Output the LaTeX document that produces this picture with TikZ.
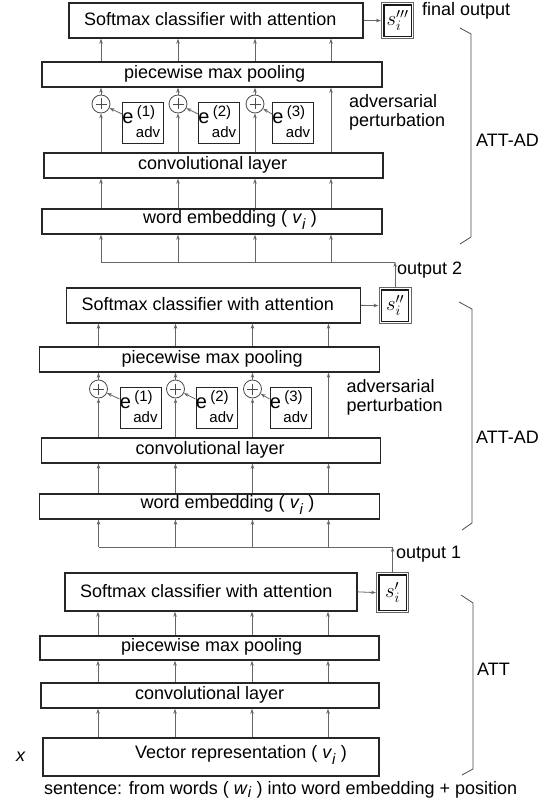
\documentclass[tikz,border=0pt]{standalone}
\usepackage{fontspec}
\setmainfont{Liberation Sans}
\usetikzlibrary{arrows.meta,calc}
\tikzset{
  box/.style={draw=black!85, line width=1.7pt, inner sep=0pt, anchor=north west},
  txt/.style={font=\fontsize{18}{19}\selectfont, inner sep=0pt},
  small/.style={font=\fontsize{15}{15}\selectfont, inner sep=0pt},
  arr/.style={draw=black!60, line width=0.8pt, -{Stealth[length=5pt,width=3.5pt]}},
  plain/.style={draw=black!60, line width=0.8pt},
  brk/.style={draw=black!70, line width=0.8pt},
  sbox/.style={draw=black!60, line width=1.2pt, inner sep=0pt, anchor=north west,
    font=\fontsize{20}{20}\selectfont},
  sinner/.style={draw=black!90, line width=1.2pt},
  plusc/.style={circle, draw=black!70, line width=0.8pt, minimum size=18pt, inner sep=0pt},
}
\newcommand\vsub[1]{\textit{#1}\raisebox{-6pt}{\fontsize{15}{15}\selectfont\textit{i}}}
\newcommand\sframe[1]{\draw[sinner] ($(#1.north west)+(3,3)$) rectangle ($(#1.south east)+(-3,-3)$);}
\newcommand\advsection[3]{%
\begin{scope}[shift={(#2,#3)}]
  \coordinate (#1k1) at (101,0);
  \coordinate (#1k2) at (178,0);
  \coordinate (#1k3) at (255,0);
  \coordinate (#1k4) at (331,0);
  \node[box, minimum width=294pt, minimum height=35pt] (#1soft) at (68,2) {};
  \node[txt, anchor=west] (#1softt) at (84,19.5) {Softmax classifier with attention};
  \node[box, minimum width=340pt, minimum height=25pt] (#1pool) at (41,61) {};
  \node[txt, anchor=west] (#1poolt) at (124,73.5) {piecewise max pooling};
  \node[box, minimum width=339pt, minimum height=25pt] (#1conv) at (43,152) {};
  \node[txt, anchor=west] (#1convt) at (138,164.5) {convolutional layer};
  \node[box, minimum width=340pt, minimum height=25pt] (#1emb) at (41,208) {};
  \node[txt, anchor=west] (#1embt) at (143,219.5) {word embedding ( \vsub{v} )};
  \node[txt, anchor=west, align=left] (#1advt) at (349,112.5) {adversarial\\perturbation};
  \coordinate (#1h) at (101,262);
  \foreach \i/\ex in {1/122, 2/198, 3/272}{
    \node[plusc] (#1c\i) at (#1k\i |- 0,104) {};
    \draw[black!70, line width=0.7pt] ($(#1c\i)+(-5.5,0)$) -- ($(#1c\i)+(5.5,0)$)
      ($(#1c\i)+(0,-5.5)$) -- ($(#1c\i)+(0,5.5)$);
    \node[box, line width=1.4pt, minimum size=41pt] (#1e\i) at (\ex,102) {};
    \node[txt, font=\fontsize{20}{20}\selectfont] (#1ee\i) at ($(#1e\i.north west)+(6,16)$) {e};
    \node[small] (#1en\i) at ($(#1e\i.north west)+(24,10.5)$) {(\i)};
    \node[small] (#1ea\i) at ($(#1e\i.north west)+(26,30)$) {adv};
    \draw[arr] (#1conv.north -| #1c\i) -- (#1c\i);
    \draw[arr] (#1c\i) -- (#1pool.south -| #1c\i);
    \draw[arr] ($(#1e\i.north west)+(0,12)$) -- (#1c\i);
  }
  \draw[arr] (#1conv.north -| #1k4) -- (#1pool.south -| #1k4);
  \foreach \i in {1,2,3,4}{
    \draw[arr] (#1pool.north -| #1k\i) -- (#1soft.south -| #1k\i);
    \draw[arr] (#1emb.north -| #1k\i) -- (#1conv.south -| #1k\i);
    \draw[arr] (#1h -| #1k\i) -- (#1emb.south -| #1k\i);
  }
\end{scope}}
\begin{document}
\begin{tikzpicture}[x=1pt,y=-1pt]
\useasboundingbox (0,0) rectangle (558,805);
\fill[white] (0,0) rectangle (558,805);
% top section
\advsection{T}{0}{0}
\node[sbox, minimum width=32pt, minimum height=36pt] (Ts) at (381,2) {$s_i'''$};
\sframe{Ts}
\draw[arr] (Tsoft.east) -- (Ts.west);
\node[txt, anchor=west] (fout) at (422,11) {final output};
\draw[brk] (460,28) -- (471,34) -- (471,237) -- (460,244);
\node[txt, anchor=west] (Tlab) at (476,140) {ATT-AD};
% middle section
\advsection{M}{-2.5}{285}
\node[sbox, minimum width=32pt, minimum height=36pt] (Ms) at (378.5,287) {$s_i''$};
\sframe{Ms}
\draw[arr] (Msoft.east) -- (Ms.west);
\draw[arr] (Ms.north) -- (Th -| Ms.north);
\draw[plain] (Th) -- (Th -| Ms.north);
\node[txt, anchor=west] (out2) at (397,270) {output 2};
\draw[brk] (459,302) -- (472,309) -- (472,523) -- (462,530);
\node[txt, anchor=west] (Mlab) at (476,437) {ATT-AD};
% bottom section
\coordinate (Bk1) at (98,0);
\coordinate (Bk2) at (175,0);
\coordinate (Bk3) at (252,0);
\coordinate (Bk4) at (328,0);
\node[box, minimum width=292pt, minimum height=38pt] (Bsoft) at (64,572) {};
\node[txt, anchor=west] (Bsoftt) at (80,591) {Softmax classifier with attention};
\node[sbox, minimum width=32pt, minimum height=40pt] (Bs) at (376,572) {$s_i'$};
\sframe{Bs}
\draw[arr] (Bsoft.east) -- (Bs.west);
\node[box, minimum width=339pt, minimum height=24pt] (Bpool) at (39,635) {};
\node[txt, anchor=west] (Bpoolt) at (121,647) {piecewise max pooling};
\node[box, minimum width=338pt, minimum height=25pt] (Bconv) at (40,682) {};
\node[txt, anchor=west] (Bconvt) at (135,694.5) {convolutional layer};
\node[box, minimum width=336pt, minimum height=38pt] (Bvec) at (42,737) {};
\node[txt, anchor=west] (Bvect) at (135,755) {Vector representation ( \vsub{v} )};
\foreach \i in {1,2,3,4}{
  \draw[arr] (Bpool.north -| Bk\i) -- (Bsoft.south -| Bk\i);
  \draw[arr] (Bconv.north -| Bk\i) -- (Bpool.south -| Bk\i);
  \draw[arr] (Bvec.north -| Bk\i) -- (Bconv.south -| Bk\i);
}
\draw[arr] (Bs.north) -- (Mh -| Bs.north);
\draw[plain] (Mh) -- (Mh -| Bs.north);
\node[txt, anchor=west] (out1) at (396,554) {output 1};
\draw[brk] (461,595) -- (473,603) -- (473,769) -- (462,775);
\node[txt, anchor=west] (Blab) at (477,669) {ATT};
\node[txt] (xlab) at (21,757) {\textit{x}};
\node[txt, anchor=west] (cap) at (44,790) {sentence: from words ( \textit{w}\raisebox{-3pt}{\fontsize{15}{15}\selectfont\textit{i}} ) into word embedding + position};
\end{tikzpicture}
\end{document}
